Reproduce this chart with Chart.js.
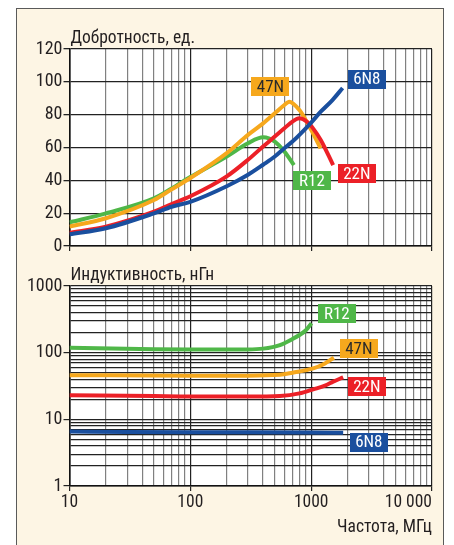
<!DOCTYPE html>
<html>
<head>
<meta charset="utf-8">
<script src="https://cdn.jsdelivr.net/npm/chart.js@4/dist/chart.umd.min.js"></script>
<style>
  html, body { margin: 0; padding: 0; background: #ffffff; width: 454px; height: 545px; overflow: hidden; }
  #frame { position: absolute; left: 16px; top: 8px; width: 428px; height: 560px;
           border: 1.5px solid #5a5a5a; background: #fdf5e4; box-sizing: border-box; }
  canvas { position: absolute; left: 0; top: 0; }
</style>
</head>
<body>
<div id="frame"></div>
<canvas id="cq" width="454" height="545"></canvas>
<canvas id="cl" width="454" height="545"></canvas>
<script>
// ---------- DATA ----------
const seriesNames = ['6N8', '22N', '47N', 'R12'];

// Quality factor (top panel), frequency in MHz
const qFreq6N8 = [10, 20, 50, 70, 100, 200, 300, 400, 500, 600, 700, 800, 1000, 1200, 1500, 1820];
const qVal6N8  = [7.1, 10.8, 19.9, 23.9, 26.9, 36.4, 43.4, 49.5, 54.5, 59.6, 63.6, 67.7, 75.2, 81.8, 88.9, 96.2];

const qFreq22N = [10, 20, 50, 70, 100, 200, 300, 400, 500, 600, 700, 796, 930, 1040, 1200, 1520];
const qVal22N  = [8.1, 11.8, 20.9, 25.6, 30.3, 42.4, 52.5, 60.6, 66.7, 71.7, 75.8, 77.8, 75.5, 71.5, 64.6, 49.3];

const qFreq47N = [10, 20, 50, 70, 100, 200, 300, 400, 500, 600, 658, 800, 930, 1000, 1196];
const qVal47N  = [11.8, 16.9, 28.0, 34.5, 41.4, 56.6, 67.7, 74.7, 80.8, 85.9, 87.9, 82.8, 75.0, 70.7, 59.5];

const qFreqR12 = [10, 20, 50, 70, 100, 200, 300, 401, 500, 600, 720];
const qValR12  = [14.4, 19.9, 29.0, 35.0, 42.0, 54.5, 62.6, 66.2, 63.6, 57.6, 49.3];

// Inductance (bottom panel), nH
const lFreq6N8 = [10, 30, 100, 300, 1000, 1840];
const lVal6N8  = [6.55, 6.45, 6.4, 6.4, 6.35, 6.3];

const lFreq22N = [10, 50, 100, 300, 551, 800, 1040, 1300, 1520, 1840];
const lVal22N  = [23.0, 22.3, 22.0, 22.0, 22.4, 24.5, 28.2, 32.0, 36.7, 42.7];

const lFreq47N = [10, 100, 300, 551, 700, 1040, 1300, 1542];
const lVal47N  = [46.0, 45.2, 45.2, 46.5, 50.0, 58.0, 69.0, 84.0];

const lFreqR12 = [10, 50, 100, 300, 400, 551, 700, 800, 900, 1007];
const lValR12  = [119, 113, 112, 112, 115, 130, 160, 184, 215, 276];

// Axis ticks
const xMajor = [10, 100, 1000, 10000];
const xTickLabels = ['10', '100', '1000', '10 000'];
const qTicks = [0, 20, 40, 60, 80, 100, 120];
const lMajor = [1, 10, 100, 1000];
const lTickLabels = ['1', '10', '100', '1000'];

// Texts
const qTitle = 'Добротность, ед.';
const lTitle = 'Индуктивность, нГн';
const xTitle = 'Частота, МГц';

// ---------- STYLE ----------
const colors = { '6N8': '#1a4f9e', '22N': '#ec2027', '47N': '#f6a81d', 'R12': '#4fb748' };
const labelText = { '6N8': '#ffffff', '22N': '#ffffff', '47N': '#2a2a2a', 'R12': '#ffffff' };
const FONT = "'Liberation Sans Narrow', 'Arial Narrow', 'Roboto Condensed', sans-serif";
const TXT = '#231f20';

// label anchors in data units (freq, value) for the tag boxes
const qTags = [
  { name: '47N', f: 460, v: 97.2 },
  { name: '6N8', f: 2886, v: 101.7 },
  { name: 'R12', f: 1014, v: 39.6 },
  { name: '22N', f: 2386, v: 43.9 }
];
const lTags = [
  { name: 'R12', f: 1631, v: 387 },
  { name: '47N', f: 2479, v: 115 },
  { name: '22N', f: 2886, v: 31.1 },
  { name: '6N8', f: 3000, v: 4.57 }
];

function logGrid(lo, hi) {
  const out = [];
  for (let d = lo; d < hi; d *= 10) for (let k = 1; k < 10; k++) out.push(Math.round(d * k));
  out.push(hi);
  return out;
}
const xGrid = logGrid(10, 10000);
const lGrid = logGrid(1, 1000);

function pts(fs, vs) { return fs.map((f, i) => ({ x: f, y: vs[i] })); }
function ds(name, fs, vs) {
  return { label: name, data: pts(fs, vs), borderColor: colors[name], borderWidth: 4,
           pointRadius: 0, fill: false, tension: 0.4, cubicInterpolationMode: 'monotone',
           borderCapStyle: 'butt' };
}

const bgPlugin = {
  id: 'bg',
  beforeDraw(chart) {
    const a = chart.chartArea, c = chart.ctx;
    c.save(); c.fillStyle = '#ffffff';
    c.fillRect(a.left, a.top, a.right - a.left, a.bottom - a.top);
    c.restore();
  }
};

function tagPlugin(tags) {
  return {
    id: 'tags',
    afterDatasetsDraw(chart) {
      const c = chart.ctx, xs = chart.scales.x, ys = chart.scales.y;
      c.save();
      c.font = '17px ' + FONT;
      c.textAlign = 'center'; c.textBaseline = 'middle';
      tags.forEach(t => {
        const cx = xs.getPixelForValue(t.f), cy = ys.getPixelForValue(t.v);
        const w = 38, h = 19;
        c.fillStyle = colors[t.name];
        c.fillRect(Math.round(cx - w / 2), Math.round(cy - h / 2), w, h);
        c.fillStyle = labelText[t.name];
        c.fillText(t.name, cx, cy + 1);
      });
      c.restore();
    }
  };
}

function titlePlugin(text) {
  return {
    id: 'ttl',
    afterDraw(chart) {
      const c = chart.ctx, a = chart.chartArea;
      c.save();
      c.font = '17.5px ' + FONT; c.fillStyle = TXT;
      c.textAlign = 'left'; c.textBaseline = 'alphabetic';
      c.fillText(text, a.left + 1, a.top - 6.5);
      c.restore();
    }
  };
}

const xLabelPlugin = {
  id: 'xlab',
  afterDraw(chart) {
    const c = chart.ctx, a = chart.chartArea, xs = chart.scales.x;
    c.save();
    c.font = '17.5px ' + FONT; c.fillStyle = TXT; c.textBaseline = 'alphabetic';
    xMajor.forEach((v, i) => {
      c.textAlign = (i === xMajor.length - 1) ? 'right' : 'center';
      c.fillText(xTickLabels[i], xs.getPixelForValue(v), a.bottom + 21);
    });
    c.textAlign = 'right';
    c.fillText(xTitle, a.right, a.bottom + 45.5);
    c.restore();
  }
};

const DARK = '#222222', MINOR = '#808080';

function xScale() {
  return {
    type: 'logarithmic', min: 10, max: 10000,
    afterBuildTicks(s) { s.ticks = xGrid.map(v => ({ value: v, major: xMajor.includes(v) })); },
    afterFit(s) { s.height = 5; },
    ticks: { display: false, autoSkip: false },
    grid: {
      color: ctx => (ctx.tick && xMajor.includes(ctx.tick.value)) ? DARK : MINOR,
      tickColor: ctx => (ctx.tick && xMajor.includes(ctx.tick.value)) ? DARK : 'rgba(0,0,0,0)',
      lineWidth: 1.2, tickLength: 5, drawTicks: true
    },
    border: { display: true, color: '#111111', width: 1.6 }
  };
}

// ---------- TOP CHART ----------
new Chart(document.getElementById('cq'), {
  type: 'line',
  data: { datasets: [
    ds('6N8', qFreq6N8, qVal6N8), ds('22N', qFreq22N, qVal22N),
    ds('47N', qFreq47N, qVal47N), ds('R12', qFreqR12, qValR12)
  ] },
  options: {
    responsive: false, animation: false, devicePixelRatio: 1,
    layout: { padding: { left: 0, top: 49, right: 22, bottom: 545 - 246 - 5 } },
    plugins: { legend: { display: false }, tooltip: { enabled: false } },
    scales: {
      x: xScale(),
      y: {
        type: 'linear', min: 0, max: 120,
        afterBuildTicks(s) { s.ticks = qTicks.map(v => ({ value: v })); },
        afterFit(s) { s.width = 69.5; },
        ticks: { font: { family: FONT, size: 18 }, color: TXT, padding: 1, autoSkip: false },
        grid: { color: DARK, lineWidth: 1.3, tickLength: 6, tickColor: DARK },
        border: { display: true, color: '#111111', width: 1.6 }
      }
    }
  },
  plugins: [bgPlugin, tagPlugin(qTags), titlePlugin(qTitle)]
});

// ---------- BOTTOM CHART ----------
new Chart(document.getElementById('cl'), {
  type: 'line',
  data: { datasets: [
    ds('6N8', lFreq6N8, lVal6N8), ds('22N', lFreq22N, lVal22N),
    ds('47N', lFreq47N, lVal47N), ds('R12', lFreqR12, lValR12)
  ] },
  options: {
    responsive: false, animation: false, devicePixelRatio: 1,
    layout: { padding: { left: 0, top: 286, right: 22, bottom: 545 - 486 - 5 } },
    plugins: { legend: { display: false }, tooltip: { enabled: false } },
    scales: {
      x: xScale(),
      y: {
        type: 'logarithmic', min: 1, max: 1000,
        afterBuildTicks(s) { s.ticks = lGrid.map(v => ({ value: v, major: lMajor.includes(v) })); },
        afterFit(s) { s.width = 69.5; },
        ticks: {
          font: { family: FONT, size: 18 }, color: TXT, padding: 1, autoSkip: false,
          callback: v => { const i = lMajor.indexOf(Math.round(v)); return i >= 0 ? lTickLabels[i] : ''; }
        },
        grid: {
          color: DARK, lineWidth: 1.2, tickLength: 6,
          tickColor: ctx => (ctx.tick && lMajor.includes(ctx.tick.value)) ? DARK : 'rgba(0,0,0,0)'
        },
        border: { display: true, color: '#111111', width: 1.6 }
      }
    }
  },
  plugins: [bgPlugin, tagPlugin(lTags), titlePlugin(lTitle), xLabelPlugin]
});
</script>
</body>
</html>
